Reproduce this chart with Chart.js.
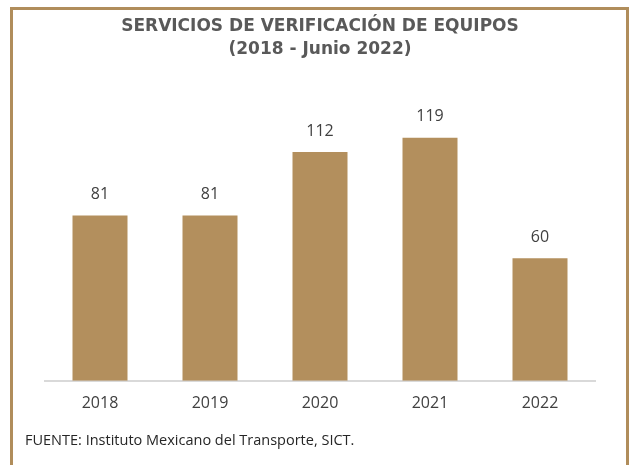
<!DOCTYPE html>
<html>
<head>
<meta charset="utf-8">
<script src="https://cdn.jsdelivr.net/npm/chart.js@4.4.0/dist/chart.umd.min.js"></script>
<style>
  body { margin: 0; background: #fff; }
  #frame { position: absolute; left: 10px; top: 7px; width: 613px; height: 470px;
           border: 3px solid #b08d5b; border-bottom: none; }
  #wrap { position: absolute; left: 0; top: 0; width: 632px; height: 465px; }
  #fuente { position: absolute; left: 25px; top: 430px; font: 14.5px "Open Sans", sans-serif; color: #262626; }
</style>
</head>
<body>
<div id="frame"></div>
<div id="wrap"><canvas id="chart" width="632" height="465"></canvas></div>
<div id="fuente"></div>
<script>
// data
var years = ["2018", "2019", "2020", "2021", "2022"];
var servicios = [81, 81, 112, 119, 60];
var titulo = ["SERVICIOS DE VERIFICACIÓN DE EQUIPOS", "(2018 - Junio 2022)"];
var fuente = "FUENTE: Instituto Mexicano del Transporte, SICT.";

document.querySelector('#fuente').textContent = fuente;

// etiquetas encima de cada barra
var valueLabels = {
    id: 'valueLabels',
    afterDatasetsDraw: function (chart) {
        var ctx = chart.ctx;
        var meta = chart.getDatasetMeta(0);
        ctx.save();
        ctx.font = '16px "Open Sans", sans-serif';
        ctx.fillStyle = '#404040';
        ctx.textAlign = 'center';
        ctx.textBaseline = 'middle';
        meta.data.forEach(function (bar, i) {
            ctx.fillText(servicios[i], bar.x, bar.y - 21);
        });
        ctx.restore();
    }
};

var ctx = document.querySelector('#chart').getContext('2d');
var chart = new Chart(ctx, {
    type: 'bar',
    data: {
        labels: years,
        datasets: [{
            data: servicios,
            backgroundColor: '#b38f5d',
            barPercentage: 0.5,
            categoryPercentage: 1
        }]
    },
    options: {
        responsive: false,
        animation: false,
        layout: { padding: { top: 15, left: 45, right: 37, bottom: 47 } },
        plugins: {
            legend: { display: false },
            tooltip: { enabled: false },
            title: {
                display: true,
                text: titulo,
                color: '#595959',
                font: { family: '"DejaVu Sans", sans-serif', size: 17, weight: 'bold', lineHeight: 1.35 },
                padding: { top: 0, bottom: 34 }
            }
        },
        scales: {
            x: {
                grid: { display: false },
                border: { color: '#d9d9d9', width: 2 },
                ticks: { color: '#404040', font: { family: '"Open Sans", sans-serif', size: 16 }, padding: 5 }
            },
            y: {
                display: false,
                min: 0,
                max: 140
            }
        }
    },
    plugins: [valueLabels]
});
</script>
</body>
</html>
